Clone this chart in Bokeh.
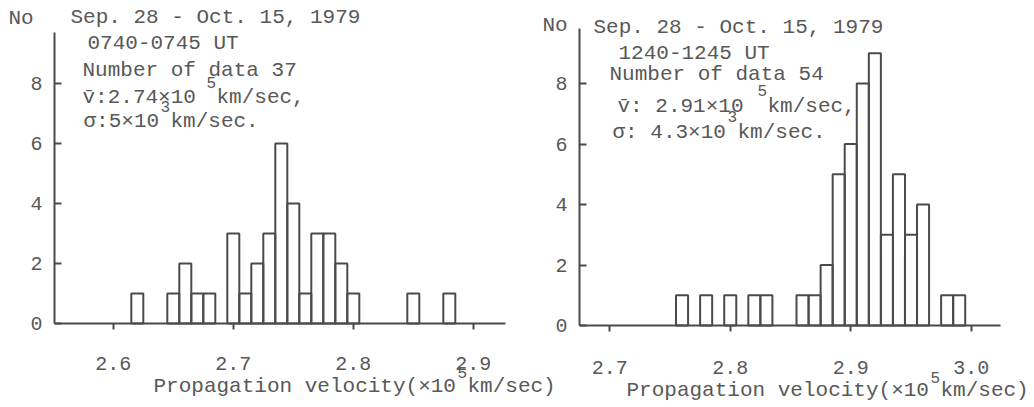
from bokeh.plotting import figure
from bokeh.layouts import row
from bokeh.models import Label, FixedTicker, PrintfTickFormatter, Range1d, LinearAxis
from bokeh.embed import file_html
from bokeh.resources import INLINE

# ---------------- data ----------------
left_velocity = [2.62, 2.65, 2.66, 2.67, 2.68, 2.70, 2.71, 2.72, 2.73,
                 2.74, 2.75, 2.76, 2.77, 2.78, 2.79, 2.80, 2.85, 2.88]
left_count = [1, 1, 2, 1, 1, 3, 1, 2, 3, 6, 4, 1, 3, 3, 2, 1, 1, 1]

right_velocity = [2.76, 2.78, 2.80, 2.82, 2.83, 2.86, 2.87, 2.88, 2.89,
                  2.90, 2.91, 2.92, 2.93, 2.94, 2.95, 2.96, 2.98, 2.99]
right_count = [1, 1, 1, 1, 1, 1, 1, 2, 5, 6, 8, 9, 3, 5, 3, 4, 1, 1]

bin_width = 0.01
left_xticks = [2.6, 2.7, 2.8, 2.9]
right_xticks = [2.7, 2.8, 2.9, 3.0]
y_ticks = [0, 2, 4, 6, 8]

left_title = ["Sep. 28 - Oct. 15, 1979", "0740-0745 UT", "Number of data 37"]
left_mean = ("v\u0304:2.74\u00d710", "5", "km/sec,")
left_sigma = ("\u03c3:5\u00d710", "3", "km/sec.")
right_title = ["Sep. 28 - Oct. 15, 1979", "1240-1245 UT", "Number of data 54"]
right_mean = ("v\u0304: 2.91\u00d710", "5", "km/sec,")
right_sigma = ("\u03c3: 4.3\u00d710", "3", "km/sec.")
x_label = ("Propagation velocity(\u00d710", "5", "km/sec)")
y_label = "No"

FONT = "Liberation Mono"
INK = "#4a4a4a"
TXT = "#585858"
H = 407


def make_panel(width, canvas_left, axis_px, base_py, top_py, right_px,
               x0, px_per_x, py_per_y, xticks, xs, counts, label_standoff):
    # the frame covers the whole canvas; axes are pinned with fixed_location
    x_start = x0 - (axis_px - canvas_left) / px_per_x
    x_end = x_start + width / px_per_x
    y_start = -(H - base_py) / py_per_y
    y_end = base_py / py_per_y
    x_axis_end = x0 + (right_px - axis_px) / px_per_x
    y_axis_end = (base_py - top_py) / py_per_y

    p = figure(width=width, height=H, output_backend="svg",
               toolbar_location=None,
               x_range=Range1d(x_start, x_end), y_range=Range1d(y_start, y_end),
               x_axis_location=None, y_axis_location=None,
               min_border=0)
    p.grid.visible = False
    p.outline_line_color = None
    p.background_fill_color = None
    p.border_fill_color = None

    p.vbar(x=xs, width=bin_width, top=counts, bottom=0,
           fill_color="white", fill_alpha=0.0,
           line_color=INK, line_width=2)

    xa = LinearAxis(fixed_location=0, bounds=(x0, x_axis_end),
                    ticker=FixedTicker(ticks=xticks),
                    formatter=PrintfTickFormatter(format="%.1f"))
    xa.major_tick_in = 0
    xa.major_tick_out = 6
    xa.major_label_standoff = label_standoff

    ya = LinearAxis(fixed_location=x0, bounds=(0, y_axis_end),
                    ticker=FixedTicker(ticks=y_ticks))
    ya.major_tick_in = 7
    ya.major_tick_out = 0
    ya.major_label_standoff = 12

    for ax in (xa, ya):
        ax.axis_line_color = INK
        ax.axis_line_width = 2
        ax.major_tick_line_color = INK
        ax.major_tick_line_width = 2
        ax.minor_tick_line_color = None
        ax.major_label_text_font = FONT
        ax.major_label_text_font_size = "20px"
        ax.major_label_text_color = TXT
    p.add_layout(xa, "below")
    p.add_layout(ya, "left")
    return p


def add_text(p, canvas_left, px, py, text, size="21px"):
    p.add_layout(Label(x=px - canvas_left, y=H - py,
                       x_units="screen", y_units="screen",
                       text=text, text_font=FONT, text_font_size=size,
                       text_color=TXT, text_align="left",
                       text_baseline="middle"))


# ---------- left panel (page coords) ----------
L_canvas, L_w = 0, 560
pL = make_panel(L_w, L_canvas, axis_px=54, base_py=323, top_py=32, right_px=505,
                x0=2.551, px_per_x=1200.0, py_per_y=30.0,
                xticks=left_xticks, xs=left_velocity, counts=left_count,
                label_standoff=27)

def tl(px, py, t, size="21px"):
    add_text(pL, L_canvas, px, py, t, size)

tl(8, 18, y_label)
tl(70, 17, left_title[0])
tl(87, 43, left_title[1])
tl(82, 70, left_title[2])
tl(82, 97, left_mean[0]); tl(206, 82, left_mean[1], "16px"); tl(216, 97, left_mean[2])
tl(83, 121, left_sigma[0]); tl(160, 106, left_sigma[1], "16px"); tl(170, 121, left_sigma[2])
tl(153, 386, x_label[0]); tl(457, 372, x_label[1], "16px"); tl(467, 386, x_label[2])

# ---------- right panel (page coords) ----------
R_canvas, R_w = 517, 517
pR = make_panel(R_w, R_canvas, axis_px=579, base_py=325, top_py=28, right_px=1000,
                x0=2.6749, px_per_x=1205.0, py_per_y=30.25,
                xticks=right_xticks, xs=right_velocity, counts=right_count,
                label_standoff=29)
pR.margin = (0, 0, 0, -(L_w - R_canvas))

def tr(px, py, t, size="21px"):
    add_text(pR, R_canvas, px, py, t, size)

tr(542, 25, y_label)
tr(593, 27, right_title[0])
tr(618, 53, right_title[1])
tr(609, 74, right_title[2])
tr(617, 106, right_mean[0]); tr(757, 90, right_mean[1], "16px"); tr(767, 106, right_mean[2])
tr(612, 132, right_sigma[0]); tr(727, 116, right_sigma[1], "16px"); tr(737, 132, right_sigma[2])
tr(626, 390, x_label[0]); tr(930, 377, x_label[1], "16px"); tr(940, 390, x_label[2])

layout = row(pL, pR)
open("out.html", "w").write(file_html(layout, INLINE))
